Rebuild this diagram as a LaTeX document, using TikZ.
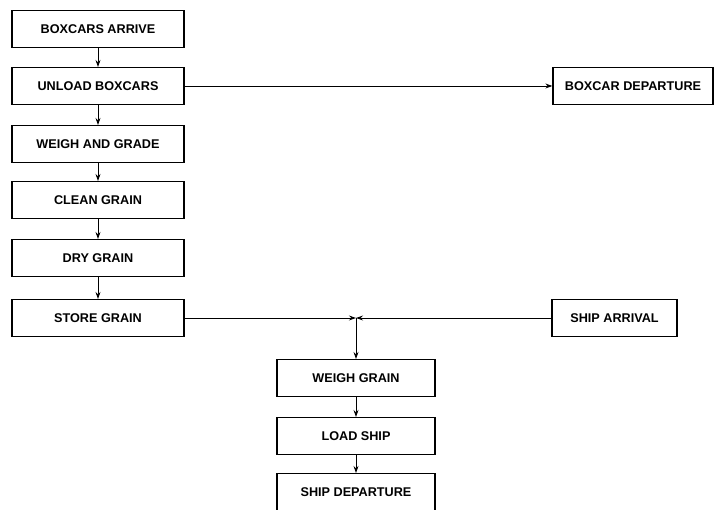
\documentclass[tikz,border=0pt]{standalone}
\usepackage{fontspec}
\setmainfont{Liberation Sans}
\usetikzlibrary{arrows.meta}

\begin{document}
\begin{tikzpicture}[
    x=0.025cm,
    y=-0.025cm,
    >={Stealth[length=5pt,width=3.5pt]},
    every node/.style={
        font=\fontsize{9}{11}\selectfont\bfseries
    },
    process/.style={
        draw,
        line width=0.8pt,
        minimum height=0.92cm,
        inner sep=0pt
    },
    mainstep/.style={
        process,
        minimum width=4.3cm
    },
    loadstep/.style={
        process,
        minimum width=3.95cm
    },
    flow/.style={
        ->,
        line width=0.7pt
    }
]

\useasboundingbox (0,0) rectangle (716,510);


\node[mainstep] (arrive) at (98,29) {BOXCARS ARRIVE};
\node[mainstep] (unload) at (98,86) {UNLOAD BOXCARS};
\node[mainstep] (grade) at (98,144) {WEIGH AND GRADE};
\node[mainstep] (clean) at (98,200) {CLEAN GRAIN};
\node[mainstep] (dry) at (98,258) {DRY GRAIN};
\node[mainstep] (store) at (98,318) {STORE GRAIN};


\node[process, minimum width=4cm] (boxdep) at (633,86) {BOXCAR DEPARTURE};
\node[process, minimum width=3.125cm] (shiparr) at (614.5,318) {SHIP ARRIVAL};


\coordinate (merge) at (356,318);

\node[loadstep] (weighgrain) at (356,378) {WEIGH GRAIN};
\node[loadstep] (loadship) at (356,436) {LOAD SHIP};
\node[loadstep] (shipdep) at (356,492) {SHIP DEPARTURE};


\draw[flow] (arrive) -- (unload);
\draw[flow] (unload) -- (grade);
\draw[flow] (grade) -- (clean);
\draw[flow] (clean) -- (dry);
\draw[flow] (dry) -- (store);

\draw[flow] (unload) -- (boxdep);

\draw[flow] (store) -- (merge);
\draw[flow] (shiparr) -- (merge);
\draw[flow] (merge) -- (weighgrain);

\draw[flow] (weighgrain) -- (loadship);
\draw[flow] (loadship) -- (shipdep);

\end{tikzpicture}
\end{document}
